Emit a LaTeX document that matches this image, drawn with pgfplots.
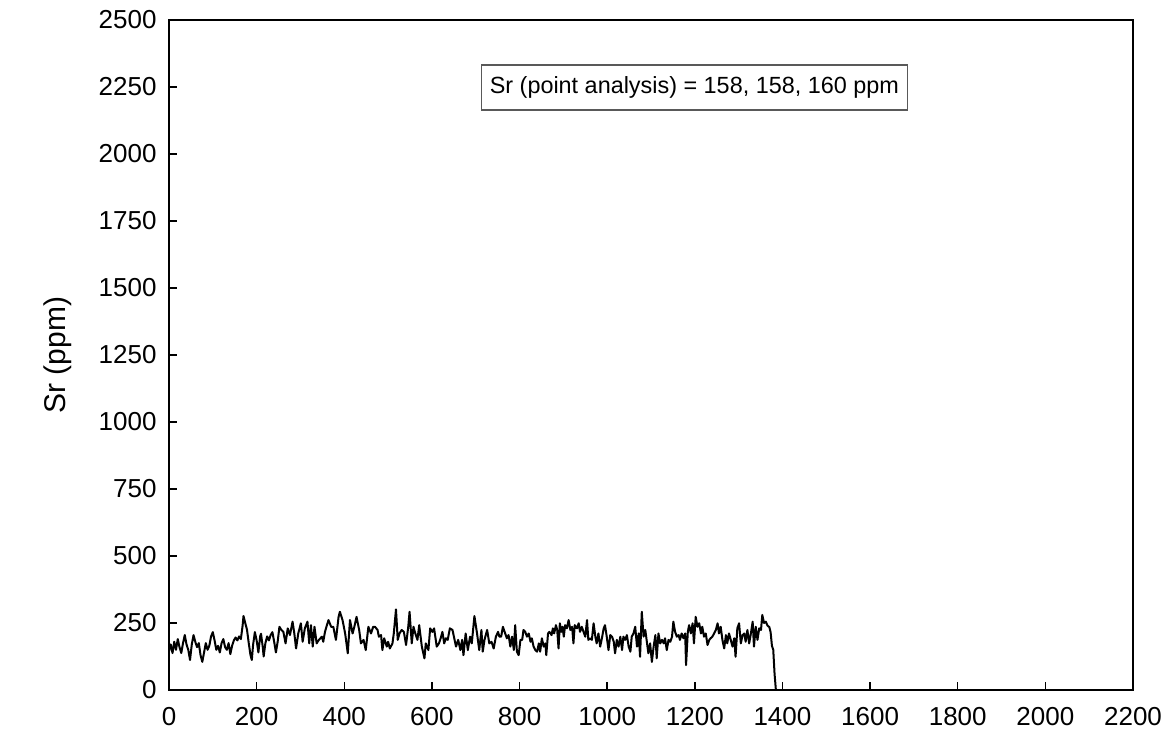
\documentclass[border=0pt]{standalone}
\usepackage{fontspec}
\setmainfont{Liberation Sans}
\usepackage{pgfplots}
\pgfplotsset{compat=1.18}
\begin{document}
\begin{tikzpicture}
\begin{axis}[name=ax, scale only axis, width=482pt, height=335pt,
  xmin=0, xmax=2200, ymin=0, ymax=2500,
  xtick={0,200,...,2200}, ytick={0,250,...,2500},
  tick align=inside, xtick pos=bottom, ytick pos=left,
  major tick length=4pt,
  axis line style={line width=0.7pt},
  tick style={line width=0.7pt, black},
  /pgf/number format/assume math mode=true,
  /pgf/number format/1000 sep={},
  tick label style={font=\fontsize{13}{15}\selectfont},
  yticklabel style={xshift=-2.7pt},
  xticklabel style={yshift=-5pt},
  ylabel={Sr (ppm)},
  ylabel style={font=\fontsize{15}{17}\selectfont, at={(axis description cs:-0.115,0.5)}, anchor=center},
  clip=false]
\addplot[black, line width=1pt, line join=round] coordinates {
(0,145)(4,170)(8,138)(12,180)(16,150)(20,190)(24,160)(28,138)(32,175)(36,205)
(40,170)(44,150)(48,112)(52,170)(56,205)(60,180)(64,160)(68,175)(72,130)(76,105)
(80,140)(84,175)(88,150)(92,165)(96,200)(100,216)(104,185)(108,150)(112,165)(116,140)
(120,175)(124,190)(128,160)(132,150)(136,175)(140,134)(144,165)(148,185)(152,196)(156,185)
(160,200)(164,190)(168,240)(170,276)(174,250)(178,225)(182,175)(186,130)(189,112)(192,170)
(196,216)(200,185)(204,140)(208,200)(210,210)(214,160)(216,125)(220,175)(224,200)(228,185)
(232,205)(236,216)(240,180)(244,140)(248,180)(252,236)
(256,225)(261,217)(266,174)(271,230)(276,205)(282,255)(286,211)(290,155)(295,211)(301,249)
(305,180)(310,230)(316,255)(320,174)(324,242)(328,162)(332,236)(337,174)(342,187)(349,199)
(352,180)(356,217)(360,240)(364,261)(370,236)(375,236)(381,187)(387,273)(390,292)(396,261)
(402,211)(408,137)(413,261)(419,211)(423,236)(428,273)(434,224)(438,174)(444,187)(449,149)
(455,236)(461,211)(466,236)
(470,236)(476,224)(479,199)(484,205)(487,149)(491,193)(497,162)(500,180)(504,155)(510,174)
(513,211)(518,301)(522,187)(526,211)(531,224)(536,217)(541,168)(546,236)(549,292)(554,174)
(558,236)(561,217)(567,187)(571,242)(577,162)(583,118)(586,174)(592,149)(596,230)(601,217)
(605,230)(611,162)(616,174)(620,193)(624,217)(628,174)(632,193)(636,187)(641,230)(647,224)
(651,193)(655,162)(660,187)(665,149)(669,187)(672,130)(677,211)(682,149)(687,199)(691,174)
(697,276)
(703,211)(708,149)(713,224)(716,143)(720,187)(726,224)(731,174)(736,180)(741,155)(746,199)
(751,217)(754,199)(758,199)(762,236)(766,217)(771,193)(775,205)(779,162)(783,199)(787,149)
(790,242)(794,143)(798,130)(802,187)(806,187)(809,224)(813,217)(817,199)(821,211)(825,180)
(828,193)(832,162)(836,149)(840,143)(844,174)(847,143)(851,193)(855,162)(859,174)(861,130)
(865,211)(868,217)(873,205)(876,230)(879,211)(883,242)(886,224)(889,155)(892,249)(895,217)
(898,236)(901,199)(904,242)(908,230)(912,261)(916,224)(920,236)(923,174)(926,242)
(931,230)(935,249)(938,217)(942,236)(946,217)(950,199)(954,261)(957,187)(961,193)(965,187)
(969,249)(973,199)(976,174)(980,211)(984,162)(988,193)(992,230)(995,242)(999,199)(1003,149)
(1007,205)(1011,199)(1015,180)(1018,137)(1022,187)(1026,162)(1030,199)(1034,149)(1037,199)(1041,187)
(1045,205)(1049,162)(1053,143)(1056,199)(1060,211)(1064,236)(1068,162)(1072,211)(1075,124)(1079,292)
(1083,199)(1087,224)(1091,174)(1094,137)(1098,174)(1102,105)(1106,162)(1110,205)(1113,118)(1117,211)
(1121,174)(1125,187)(1129,174)(1132,193)(1136,149)(1140,187)(1144,180)(1148,199)(1151,255)
(1155,217)(1159,199)(1163,205)(1166,187)(1170,211)(1174,193)(1178,211)(1180,93)(1184,217)(1187,242)
(1191,211)(1195,249)(1198,174)(1202,273)(1206,236)(1210,249)(1214,211)(1217,236)(1221,199)(1225,211)
(1229,168)(1233,187)(1236,193)(1240,199)(1244,211)(1248,224)(1252,249)(1255,211)(1259,236)(1263,187)
(1267,155)(1271,205)(1274,174)(1278,211)(1282,187)(1286,162)(1290,193)(1293,124)(1297,230)(1301,249)
(1305,174)(1309,205)(1313,211)(1316,180)(1320,224)(1324,174)(1328,211)(1332,255)(1335,162)(1339,236)
(1343,187)(1347,230)(1351,224)(1354,280)(1358,250)(1362,255)(1366,240)(1370,235)(1373,215)(1376,165)
(1379,150)(1382,60)(1385,0)
};
\node[draw=gray!70!black, line width=0.6pt, fill=white, minimum width=213pt, minimum height=22.5pt, inner sep=0pt, font=\fontsize{11.7}{14}\selectfont] at (axis cs:1199,2248) {Sr (point analysis) = 158, 158, 160 ppm};
\end{axis}
\pgfresetboundingbox
\path ([xshift=-84.5pt,yshift=-22.5pt]ax.south west) rectangle ([xshift=16.5pt,yshift=10pt]ax.north east);
\end{tikzpicture}
\end{document}
